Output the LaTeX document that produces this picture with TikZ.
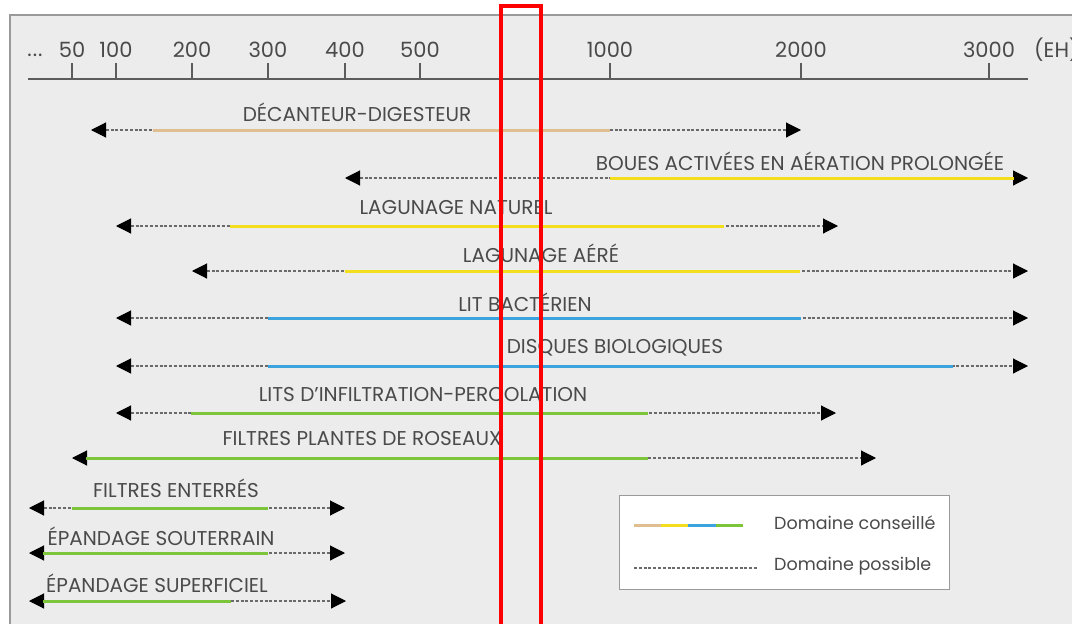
\documentclass[tikz,border=0pt]{standalone}
\usepackage{fontspec}
\setmainfont{Poppins}
\usetikzlibrary{arrows.meta}
\definecolor{bgc}{HTML}{ECECEC}
\definecolor{framec}{HTML}{9A9A9A}
\definecolor{txt}{HTML}{4A4A4A}
\definecolor{dashc}{HTML}{6A6A6A}
\definecolor{ctan}{HTML}{DFBE90}
\definecolor{cyel}{HTML}{F3DE1E}
\definecolor{cblue}{HTML}{3BA3DD}
\definecolor{cgreen}{HTML}{7CC43A}
\begin{document}
\begin{tikzpicture}[x=1pt,y=-1pt,
  lbl/.style={text=txt,font=\fontsize{20}{23}\selectfont,inner sep=0pt},
  axlbl/.style={text=txt,font=\fontsize{21}{24}\selectfont,inner sep=0pt},
  leglbl/.style={text=txt,font=\fontsize{17.5}{20}\selectfont,inner sep=0pt,anchor=west},
  possible/.style={draw=dashc,line width=1.1pt,dash pattern=on 3pt off 1.8pt,
    >={Triangle[length=15pt,width=15pt,black]}},
  advised/.style={line width=3pt},
  axisline/.style={draw=txt!90,line width=1.4pt},
]
\useasboundingbox (0,0) rectangle (1072,624);
\fill[white] (0,0) rectangle (1072,624);
\draw[fill=bgc,draw=framec,line width=1.5pt] (10,15) rectangle (1090,640);

% axis
\coordinate (ax0) at (28,79);
\coordinate (ax1) at (1028,79);
\draw[axisline] (ax0) -- (ax1);
\node[axlbl,anchor=base] (dots) at (35,56) {.\kern1pt.\kern1pt.};
\foreach \x/\v in {72/50,116/100,192/200,268/300,345/400,420/500,610/1000,801/2000,989/3000}{
  \coordinate (tk\v) at (\x,79);
  \draw[axisline] (tk\v) -- ++(0,-16);
  \node[axlbl] (n\v) at (\x,50) {\v};
}
\node[axlbl,anchor=west] (eh) at (1034,50) {(EH)};

% rows: index / label x / label y / line y / left tip / solid start / solid end / right tip / colour / text
\foreach \i/\lx/\ly/\yy/\a/\b/\c/\d/\col/\txt in {
  1/357/112/130/91/153/610/801/ctan/DÉCANTEUR-DIGESTEUR,
  2/800/161/178/345/610/1014/1028/cyel/BOUES ACTIVÉES EN AÉRATION PROLONGÉE,
  3/456/208/226/116/230/724/838/cyel/LAGUNAGE NATUREL,
  4/541/253/271/192/345/800/1028/cyel/LAGUNAGE AÉRÉ,
  5/525/302/318/116/268/801/1028/cblue/LIT BACTÉRIEN,
  6/615/348/366/116/268/953/1028/cblue/DISQUES BIOLOGIQUES,
  7/423/395/413/116/191/648/836/cgreen/LITS D'INFILTRATION-PERCOLATION,
  8/362/439/458/72/86/648/876/cgreen/FILTRES PLANTES DE ROSEAUX,
  9/176/488/508/29/72/268/345/cgreen/FILTRES ENTERRÉS,
  10/161/536/553/29/43/268/345/cgreen/ÉPANDAGE SOUTERRAIN,
  11/157/583/601/29/43/231/346/cgreen/ÉPANDAGE SUPERFICIEL}{
  \coordinate (l\i) at (\a,\yy);
  \coordinate (s\i) at (\b,\yy);
  \coordinate (e\i) at (\c,\yy);
  \coordinate (r\i) at (\d,\yy);
  \draw[possible,<->] (l\i) -- (r\i);
  \draw[advised,draw=\col] (s\i) -- (e\i);
  \node[lbl] (t\i) at (\lx,\ly) {\txt};
}

% legend
\node[draw=framec,fill=white,line width=1.2pt,minimum width=330pt,minimum height=94pt,anchor=north west,inner sep=0pt] (legend) at (619,495) {};
\coordinate (g0) at (634,525);
\coordinate (g1) at (661,525);
\coordinate (g2) at (688,525);
\coordinate (g3) at (716,525);
\coordinate (g4) at (743,525);
\draw[advised,draw=ctan] (g0) -- (g1);
\draw[advised,draw=cyel] (g1) -- (g2);
\draw[advised,draw=cblue] (g2) -- (g3);
\draw[advised,draw=cgreen] (g3) -- (g4);
\coordinate (h0) at (634,568);
\coordinate (h1) at (758,568);
\draw[possible] (h0) -- (h1);
\node[leglbl] (lg1) at (774,523) {Domaine conseillé};
\node[leglbl] (lg2) at (774,566) {Domaine possible};

% red marker
\draw[red,line width=4pt] (501,640) -- (501,6) -- (541,6) -- (541,640);
\end{tikzpicture}
\end{document}
